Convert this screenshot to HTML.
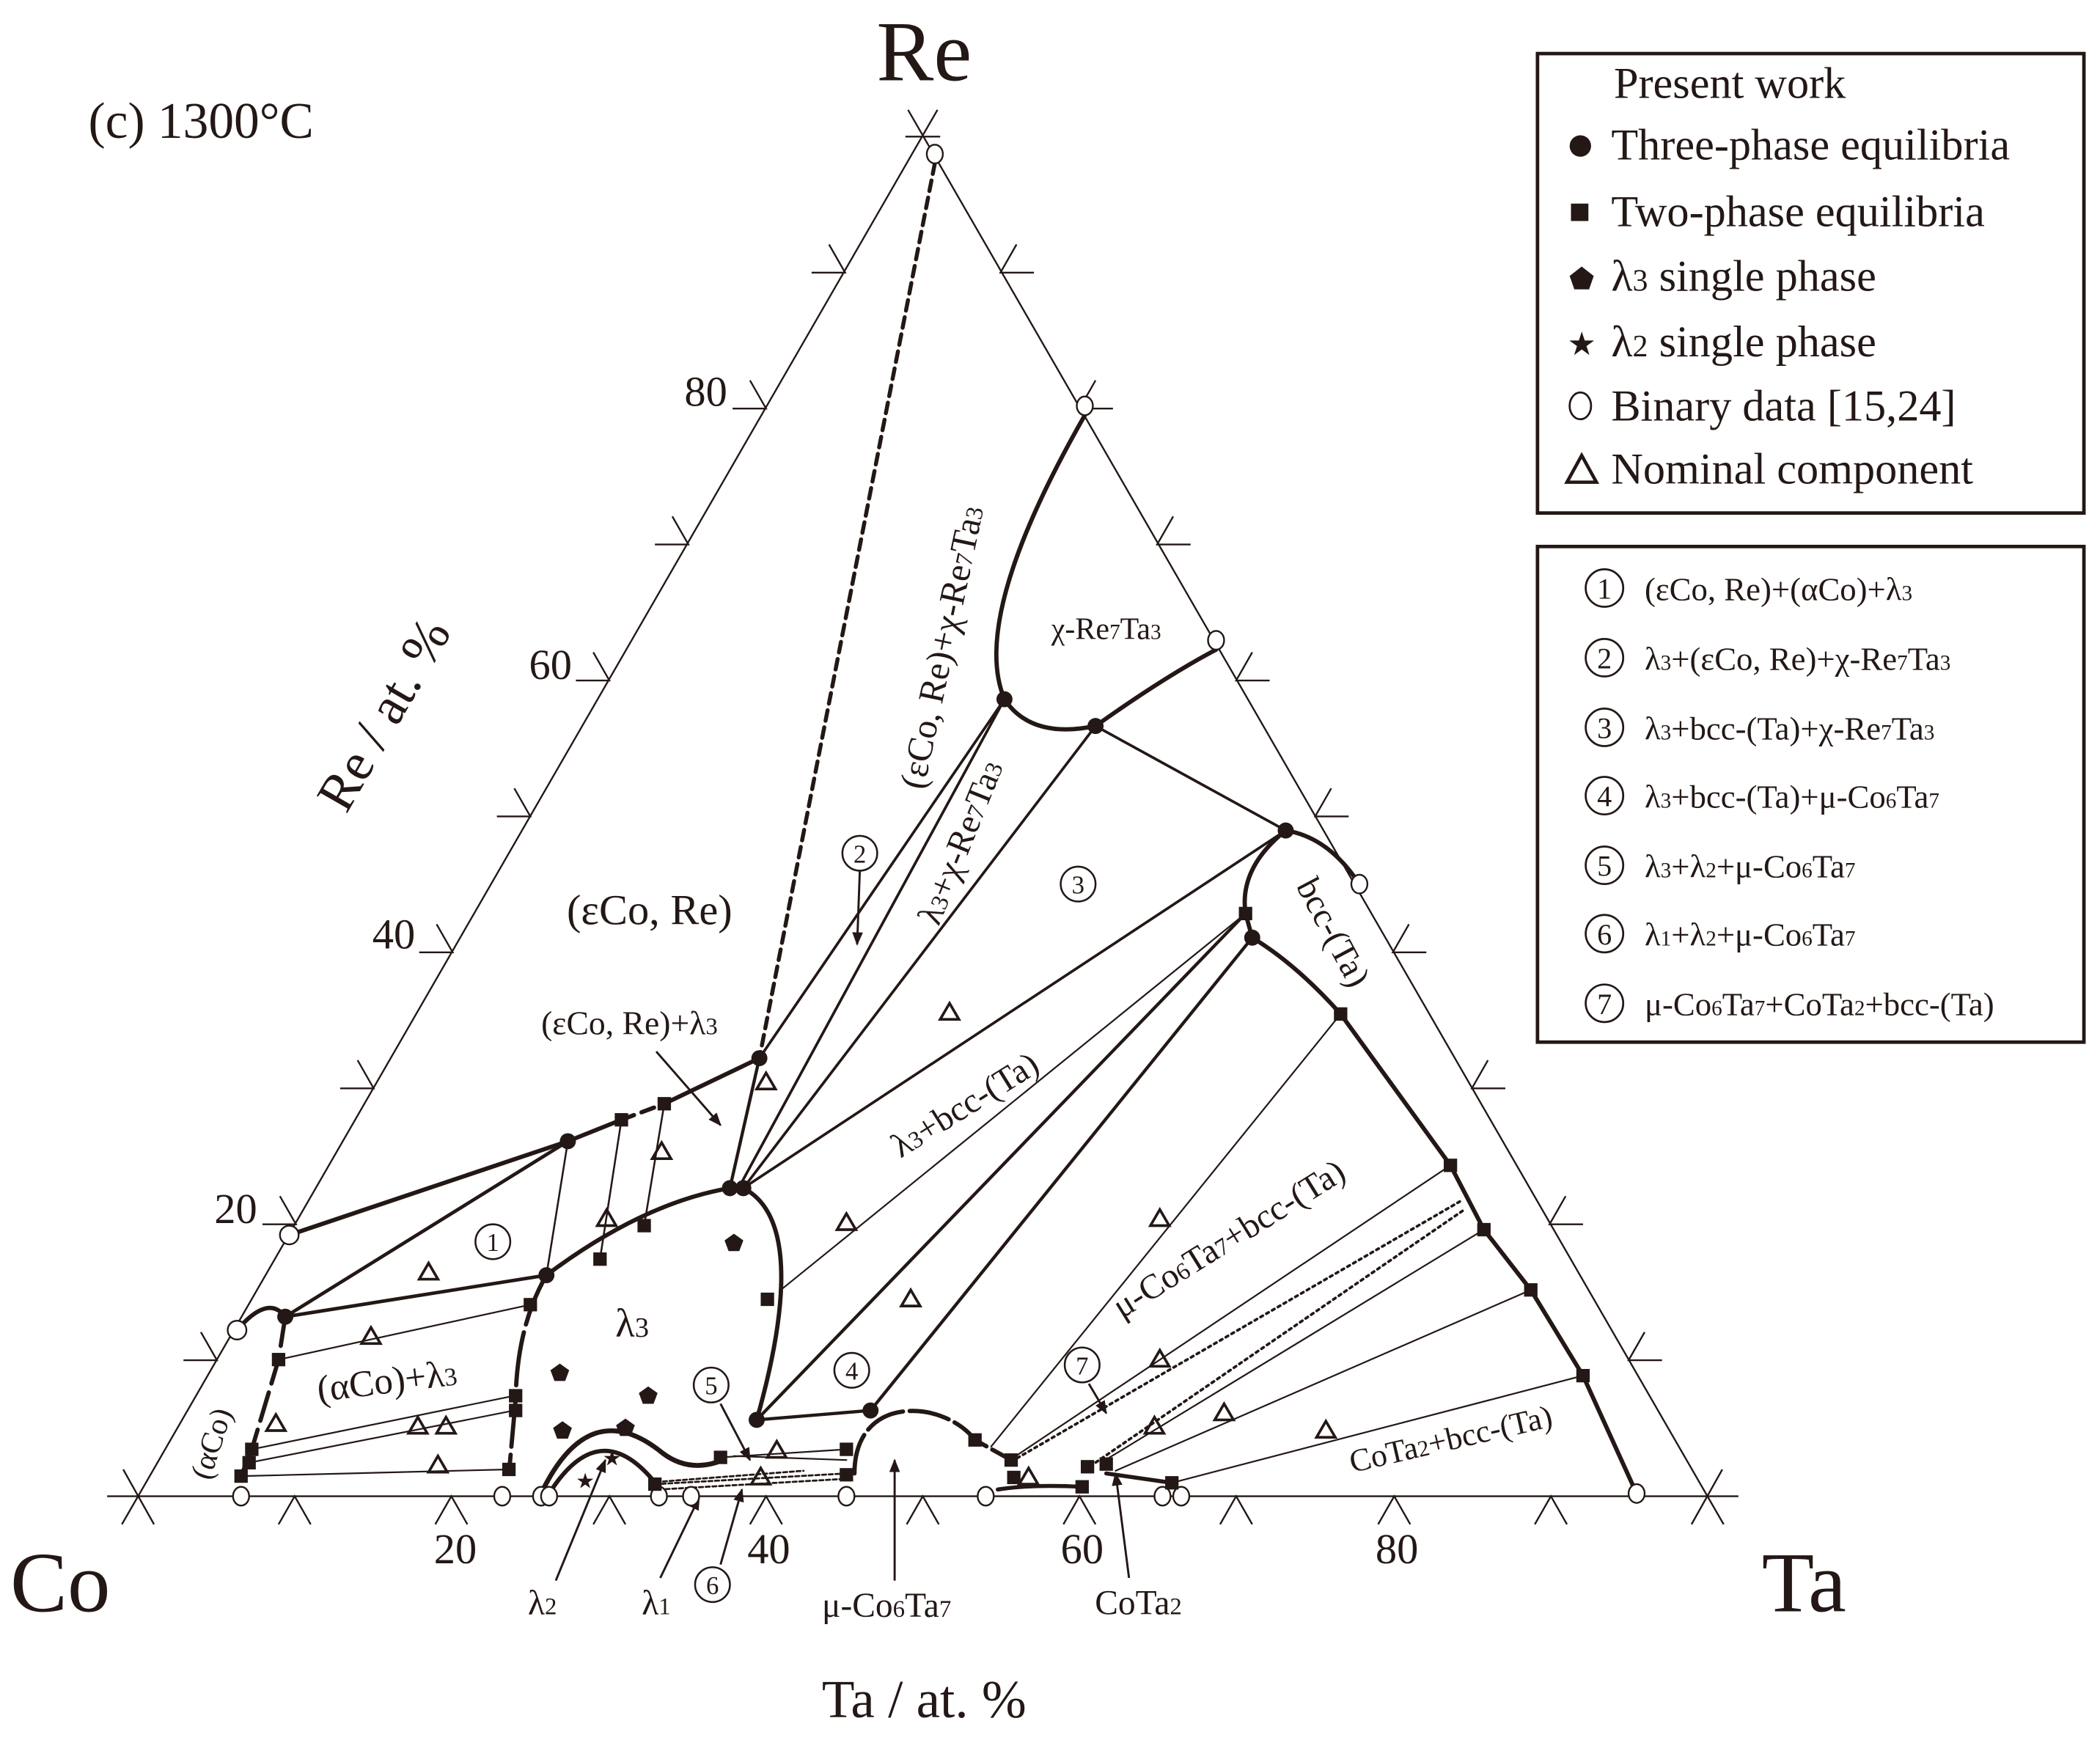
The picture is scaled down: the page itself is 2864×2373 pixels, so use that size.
<!DOCTYPE html>
<html><head><meta charset="utf-8"><style>
html,body{margin:0;padding:0;background:#fff}
svg{display:block}
text,tspan{font-family:"Liberation Serif","DejaVu Serif",serif;fill:#231815}
</style></head><body>
<svg width="2864" height="2373" viewBox="0 0 1568 1299" preserveAspectRatio="none" xmlns="http://www.w3.org/2000/svg" font-family="Liberation Serif, serif">
<defs>
<marker id="ar" markerWidth="10" markerHeight="10" refX="9" refY="5" orient="auto" markerUnits="userSpaceOnUse"><path d="M0,1 L10,5 L0,9 Z" fill="#231815"/></marker>
</defs>
<g stroke="#231815" fill="none" stroke-width="1.3">
<path d="M80,1117 L1298,1117 M91,1138 L700,82 M1287,1138 L678,82 M676,102 L702,102"/>
<path d="M92,1097 L115,1138 M1286,1097 L1263,1138"/>
<path d="M208,1138 L220,1117 L232,1138 M325,1138 L337,1117 L349,1138 M443,1138 L455,1117 L467,1138 M560,1138 L572,1117 L584,1138 M677,1138 L689,1117 L701,1138 M794,1138 L806,1117 L818,1138 M911,1138 L923,1117 L935,1138 M1029,1138 L1041,1117 L1053,1138 M1146,1138 L1158,1117 L1170,1138"/>
<path d="M137,1015.5 L162,1015.5 L150,994.5 M196,914 L221,914 L209,893 M254,812.5 L279,812.5 L267,791.5 M313,711 L338,711 L326,690 M371,609.5 L396,609.5 L384,588.5 M430,508 L455,508 L443,487 M489,406.5 L514,406.5 L502,385.5 M547,305 L572,305 L560,284 M606,203.5 L631,203.5 L619,182.5"/>
<path d="M1241,1015.5 L1216,1015.5 L1228,994.5 M1182,914 L1157,914 L1169,893 M1124,812.5 L1099,812.5 L1111,791.5 M1065,711 L1040,711 L1052,690 M1007,609.5 L982,609.5 L994,588.5 M948,508 L923,508 L935,487 M889,406.5 L864,406.5 L876,385.5 M831,305 L806,305 L818,284 M772,203.5 L747,203.5 L759,182.5"/>
</g>

<g stroke="#231815" fill="none" stroke-linecap="round">
<path d="M698,122 L567,790" stroke-width="3" stroke-dasharray="8,5"/>
<path d="M810,310 C770,380 728,470 750,522 Q770,552 818,542 Q870,505 908,485" stroke-width="3.2"/>
<path d="M750,522 L567,790 M750,522 L552,886 M818,542 L555,887 M960,620 L555,887 M960,620 L818,542" stroke-width="2"/>
<path d="M960,620 Q992,625 1015,660" stroke-width="3.2"/>
<path d="M960,620 Q925,648 930,682 L935,700 Q968,720 1001,757 L1083,870 L1108,918 L1143,963 L1182,1027 L1222,1115" stroke-width="3.2"/>
<path d="M930,682 L583,963 M1001,757 L740,1080 M1083,870 L757,1088 M1108,918 L822,1092 M1143,963 L833,1098 M1182,1027 L875,1107" stroke-width="1.2"/>
<path d="M1090,897 L757,1090 M1092,904 L812,1096" stroke-width="2" stroke-dasharray="2,3"/>
<path d="M545,887 Q480,898 408,952" stroke-width="3.2"/>
<path d="M408,952 Q386,990 385,1045 L380,1100" stroke-width="3.2" stroke-dasharray="40,6"/>
<path d="M555,887 C600,910 582,1000 565,1060" stroke-width="3.2"/>
<path d="M216,922 L424,852 L464,836 M496,824 L567,790" stroke-width="3.2"/>
<path d="M464,836 L496,824" stroke-width="3.2" stroke-dasharray="10,6"/>
<path d="M424,852 L408,952 M464,836 L448,940 M496,824 L481,915" stroke-width="1.4"/>
<path d="M567,790 L545,887" stroke-width="2.4"/>
<path d="M213,983 L424,852 M213,983 L408,952" stroke-width="2.6"/>
<path d="M177,993 Q200,966 213,983" stroke-width="3.2"/>
<path d="M213,983 L208,1015 L188,1082 L180,1102" stroke-width="3.2" stroke-dasharray="22,7"/>
<path d="M208,1015 L396,974 M188,1082 L384,1042 M186,1092 L384,1053 M180,1102 L380,1097" stroke-width="1.2"/>
<path d="M565,1060 L650,1053 M650,1053 L935,700 M565,1060 L930,682" stroke-width="2.4"/>
<path d="M404,1115 Q440,1040 495,1085 Q515,1100 540,1090" stroke-width="3.6"/>
<path d="M410,1115 Q448,1055 490,1108" stroke-width="3.2"/>
<path d="M638,1100 C638,1040 705,1045 728,1075 L755,1090" stroke-width="3.2" stroke-dasharray="30,5"/>
<path d="M538,1088 L632,1082 M548,1087 L632,1090" stroke-width="1.2"/>
<path d="M489,1108 L632,1100 M492,1112 L632,1104 M495,1106 L600,1098" stroke-width="1.5" stroke-dasharray="3,2"/>
<path d="M745,1112 Q770,1108 808,1110 M826,1100 L875,1107" stroke-width="3"/>
</g>

<g stroke="#231815" stroke-width="1.6" fill="none" marker-end="url(#ar)">
<path d="M415,1180 L452,1090"/>
<path d="M493,1178 L522,1118"/>
<path d="M538,1168 L554,1112"/>
<path d="M668,1180 L668,1090"/>
<path d="M843,1178 L833,1100"/>
<path d="M813,1033 L826,1055"/>
<path d="M538,1048 L560,1090"/>
<path d="M642,650 L640,705"/>
<path d="M490,785 L538,840"/>
</g>

<g fill="#fff" stroke="#231815" stroke-width="1.3">
<ellipse cx="698" cy="115" rx="6" ry="7"/><ellipse cx="810" cy="303" rx="6" ry="7"/><ellipse cx="908" cy="478" rx="6" ry="7"/><ellipse cx="1015" cy="660" rx="6" ry="7"/><ellipse cx="1222" cy="1115" rx="6" ry="7"/>
<ellipse cx="216" cy="922" rx="7" ry="7"/><ellipse cx="177" cy="993" rx="7" ry="7"/>
<ellipse cx="180" cy="1117" rx="6" ry="7"/><ellipse cx="375" cy="1117" rx="6" ry="7"/><ellipse cx="404" cy="1117" rx="6" ry="7"/><ellipse cx="410" cy="1117" rx="6" ry="7"/><ellipse cx="492" cy="1117" rx="6" ry="7"/><ellipse cx="516" cy="1117" rx="6" ry="7"/><ellipse cx="632" cy="1117" rx="6" ry="7"/><ellipse cx="736" cy="1117" rx="6" ry="7"/><ellipse cx="868" cy="1117" rx="6" ry="7"/><ellipse cx="882" cy="1117" rx="6" ry="7"/>
</g>
<g fill="#231815">
<circle cx="750" cy="522" r="6"/><circle cx="818" cy="542" r="6"/><circle cx="960" cy="620" r="6"/><circle cx="935" cy="700" r="6"/>
<circle cx="567" cy="790" r="6"/><circle cx="545" cy="887" r="6"/><circle cx="555" cy="887" r="6"/><circle cx="424" cy="852" r="6"/><circle cx="408" cy="952" r="6"/><circle cx="213" cy="983" r="6"/><circle cx="565" cy="1060" r="6"/><circle cx="650" cy="1053" r="6"/>
</g>
<g fill="#231815">
<rect x="925" y="677" width="10" height="10"/><rect x="996" y="752" width="10" height="10"/><rect x="1078" y="865" width="10" height="10"/><rect x="1103" y="913" width="10" height="10"/><rect x="1138" y="958" width="10" height="10"/><rect x="1177" y="1022" width="10" height="10"/>
<rect x="459" y="831" width="10" height="10"/><rect x="491" y="819" width="10" height="10"/><rect x="443" y="935" width="10" height="10"/><rect x="476" y="910" width="10" height="10"/>
<rect x="391" y="969" width="10" height="10"/><rect x="380" y="1037" width="10" height="10"/><rect x="380" y="1048" width="10" height="10"/><rect x="375" y="1092" width="10" height="10"/><rect x="568" y="965" width="10" height="10"/>
<rect x="203" y="1010" width="10" height="10"/><rect x="183" y="1077" width="10" height="10"/><rect x="181" y="1087" width="10" height="10"/><rect x="175" y="1097" width="10" height="10"/>
<rect x="533" y="1083" width="10" height="10"/><rect x="484" y="1103" width="10" height="10"/><rect x="627" y="1077" width="10" height="10"/><rect x="627" y="1096" width="10" height="10"/>
<rect x="723" y="1070" width="10" height="10"/><rect x="750" y="1085" width="10" height="10"/><rect x="752" y="1098" width="10" height="10"/><rect x="803" y="1105" width="10" height="10"/><rect x="807" y="1090" width="10" height="10"/><rect x="821" y="1088" width="10" height="10"/><rect x="870" y="1102" width="10" height="10"/>
</g>
<g fill="none" stroke="#231815" stroke-width="2">
<path d="M320,943 l-7,12 h14 z M277,991 l-7,12 h14 z M206,1056 l-7,12 h14 z M312,1058 l-7,12 h14 z M333,1058 l-7,12 h14 z M327,1087 l-7,12 h14 z M453,903 l-7,12 h14 z M494,853 l-7,12 h14 z M572,801 l-7,12 h14 z M709,749 l-7,12 h14 z M632,906 l-7,12 h14 z M680,963 l-7,12 h14 z M866,903 l-7,12 h14 z M866,1008 l-7,12 h14 z M914,1048 l-7,12 h14 z M862,1058 l-7,12 h14 z M990,1061 l-7,12 h14 z M580,1076 l-7,12 h14 z M568,1096 l-7,12 h14 z M768,1096 l-7,12 h14 z"/>
</g>
<g fill="#231815">
<path d="M548,921 l7,5 -3,8 h-8 l-3,-8 z M418,1018 l7,5 -3,8 h-8 l-3,-8 z M484,1035 l7,5 -3,8 h-8 l-3,-8 z M420,1061 l7,5 -3,8 h-8 l-3,-8 z M467,1059 l7,5 -3,8 h-8 l-3,-8 z"/>
</g>
<g font-size="16" text-anchor="middle"><text x="437" y="1111">★</text><text x="457" y="1094">★</text></g>

<g fill="none" stroke="#231815" stroke-width="1.4">
<circle cx="368" cy="927" r="13"/><circle cx="642" cy="637" r="13"/><circle cx="805" cy="660" r="13"/><circle cx="636" cy="1023" r="13"/><circle cx="531" cy="1034" r="13"/><circle cx="532" cy="1183" r="13"/><circle cx="808" cy="1019" r="13"/>
</g>
<g font-size="19" text-anchor="middle">
<text x="368" y="934">1</text><text x="642" y="644">2</text><text x="805" y="667">3</text><text x="636" y="1030">4</text><text x="531" y="1041">5</text><text x="532" y="1190">6</text><text x="808" y="1026">7</text>
</g>

<text x="690" y="60" font-size="64" text-anchor="middle">Re</text>
<text x="45" y="1203" font-size="64" text-anchor="middle">Co</text>
<text x="1347" y="1203" font-size="64" text-anchor="middle">Ta</text>
<text x="66" y="103" font-size="38">(c) 1300°C</text>
<text x="690" y="1282" font-size="40" text-anchor="middle">Ta / at. %</text>
<text transform="translate(298,540) rotate(-60)" font-size="40" text-anchor="middle">Re / at. %</text>
<g font-size="32" text-anchor="middle">
<text x="340" y="1167">20</text><text x="574" y="1167">40</text><text x="808" y="1167">60</text><text x="1043" y="1167">80</text>
</g>
<g font-size="32" text-anchor="end">
<text x="543" y="303">80</text><text x="427" y="507">60</text><text x="310" y="708">40</text><text x="192" y="913">20</text>
</g>

<text x="485" y="690" font-size="32" text-anchor="middle">(εCo, Re)</text>
<text x="470" y="772" font-size="25" text-anchor="middle">(εCo, Re)+λ<tspan font-size="18">3</tspan></text>
<text x="472" y="998" font-size="30" text-anchor="middle">λ<tspan font-size="21">3</tspan></text>
<text transform="translate(290,1040) rotate(-7)" font-size="28" text-anchor="middle">(αCo)+λ<tspan font-size="19">3</tspan></text>
<text transform="translate(165,1080) rotate(-72)" font-size="23" text-anchor="middle">(αCo)</text>
<text x="826" y="477" font-size="23" text-anchor="middle">χ-Re<tspan font-size="16">7</tspan>Ta<tspan font-size="16">3</tspan></text>
<text transform="translate(988,700) rotate(62)" font-size="26" text-anchor="middle">bcc-(Ta)</text>
<text transform="translate(712,485) rotate(-78)" font-size="27" text-anchor="middle">(εCo, Re)+χ-Re<tspan font-size="18">7</tspan>Ta<tspan font-size="18">3</tspan></text>
<text transform="translate(725,632) rotate(-68)" font-size="26" text-anchor="middle">λ<tspan font-size="18">3</tspan>+χ-Re<tspan font-size="18">7</tspan>Ta<tspan font-size="18">3</tspan></text>
<text transform="translate(725,832) rotate(-32)" font-size="26" text-anchor="middle">λ<tspan font-size="18">3</tspan>+bcc-(Ta)</text>
<text transform="translate(922,932) rotate(-32)" font-size="26" text-anchor="middle">μ-Co<tspan font-size="18">6</tspan>Ta<tspan font-size="18">7</tspan>+bcc-(Ta)</text>
<text transform="translate(1085,1082) rotate(-13)" font-size="24" text-anchor="middle">CoTa<tspan font-size="17">2</tspan>+bcc-(Ta)</text>
<g font-size="26" text-anchor="middle">
<text x="405" y="1205">λ<tspan font-size="18">2</tspan></text>
<text x="490" y="1205">λ<tspan font-size="18">1</tspan></text>
<text x="662" y="1207">μ-Co<tspan font-size="18">6</tspan>Ta<tspan font-size="18">7</tspan></text>
<text x="850" y="1205">CoTa<tspan font-size="18">2</tspan></text>
</g>

<rect x="1148" y="40" width="408" height="343" fill="none" stroke="#231815" stroke-width="2.6"/>
<g font-size="33">
<text x="1205" y="73">Present work</text>
<text x="1203" y="119">Three-phase equilibria</text>
<text x="1203" y="169">Two-phase equilibria</text>
<text x="1203" y="217">λ<tspan font-size="23">3</tspan> single phase</text>
<text x="1203" y="266">λ<tspan font-size="23">2</tspan> single phase</text>
<text x="1203" y="314">Binary data  [15,24]</text>
<text x="1203" y="361">Nominal component</text>
</g>
<circle cx="1180" cy="109" r="8" fill="#231815"/>
<rect x="1173" y="152" width="13" height="13" fill="#231815"/>
<path d="M1181,199 l9,7 -3.5,10 h-11 l-3.5,-10 z" fill="#231815"/>
<text x="1181" y="265" font-size="24" text-anchor="middle">★</text>
<ellipse cx="1180" cy="303" rx="8" ry="10" fill="none" stroke="#231815" stroke-width="1.5"/>
<path d="M1181,340 l-11,20 h22 z" fill="none" stroke="#231815" stroke-width="2.5"/>

<rect x="1148" y="408" width="408" height="370" fill="none" stroke="#231815" stroke-width="2.6"/>
<g fill="none" stroke="#231815" stroke-width="1.5">
<circle cx="1198" cy="439" r="14"/><circle cx="1198" cy="491" r="14"/><circle cx="1198" cy="543" r="14"/><circle cx="1198" cy="594" r="14"/><circle cx="1198" cy="646" r="14"/><circle cx="1198" cy="697" r="14"/><circle cx="1198" cy="749" r="14"/>
</g>
<g font-size="22" text-anchor="middle">
<text x="1198" y="447">1</text><text x="1198" y="499">2</text><text x="1198" y="551">3</text><text x="1198" y="602">4</text><text x="1198" y="654">5</text><text x="1198" y="705">6</text><text x="1198" y="757">7</text>
</g>
<g font-size="24.5">
<text x="1228" y="448">(εCo, Re)+(αCo)+λ<tspan font-size="16">3</tspan></text>
<text x="1228" y="500">λ<tspan font-size="16">3</tspan>+(εCo, Re)+χ-Re<tspan font-size="16">7</tspan>Ta<tspan font-size="16">3</tspan></text>
<text x="1228" y="552">λ<tspan font-size="16">3</tspan>+bcc-(Ta)+χ-Re<tspan font-size="16">7</tspan>Ta<tspan font-size="16">3</tspan></text>
<text x="1228" y="603">λ<tspan font-size="16">3</tspan>+bcc-(Ta)+μ-Co<tspan font-size="16">6</tspan>Ta<tspan font-size="16">7</tspan></text>
<text x="1228" y="655">λ<tspan font-size="16">3</tspan>+λ<tspan font-size="16">2</tspan>+μ-Co<tspan font-size="16">6</tspan>Ta<tspan font-size="16">7</tspan></text>
<text x="1228" y="706">λ<tspan font-size="16">1</tspan>+λ<tspan font-size="16">2</tspan>+μ-Co<tspan font-size="16">6</tspan>Ta<tspan font-size="16">7</tspan></text>
<text x="1228" y="758">μ-Co<tspan font-size="16">6</tspan>Ta<tspan font-size="16">7</tspan>+CoTa<tspan font-size="16">2</tspan>+bcc-(Ta)</text>
</g>
</svg>
</body></html>
